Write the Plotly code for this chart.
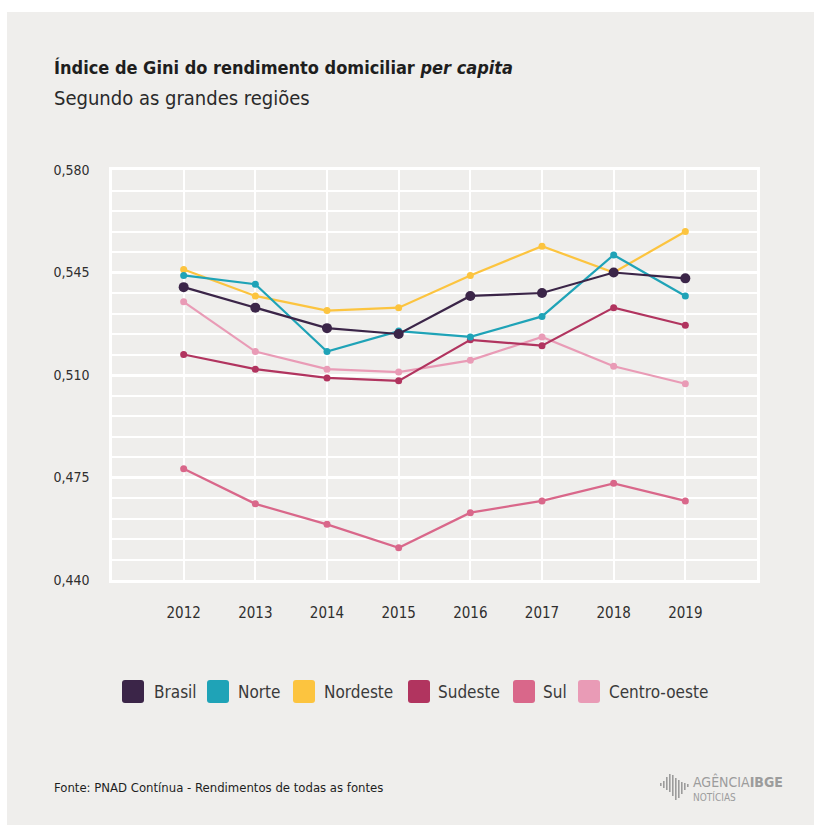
import plotly.graph_objects as go

# --- data -------------------------------------------------------------
anos = [2012, 2013, 2014, 2015, 2016, 2017, 2018, 2019]

brasil       = [0.540, 0.533, 0.526, 0.524, 0.537, 0.538, 0.545, 0.543]
norte        = [0.544, 0.541, 0.518, 0.525, 0.523, 0.530, 0.551, 0.537]
nordeste     = [0.546, 0.537, 0.532, 0.533, 0.544, 0.554, 0.545, 0.559]
sudeste      = [0.517, 0.512, 0.509, 0.508, 0.522, 0.520, 0.533, 0.527]
sul          = [0.478, 0.466, 0.459, 0.451, 0.463, 0.467, 0.473, 0.467]
centro_oeste = [0.535, 0.518, 0.512, 0.511, 0.515, 0.523, 0.513, 0.507]

nomes  = ["Brasil", "Norte", "Nordeste", "Sudeste", "Sul", "Centro-oeste"]
series = [brasil, norte, nordeste, sudeste, sul, centro_oeste]
cores  = ["#3b2548", "#1fa3b7", "#fcc43f", "#b1345f", "#d9678a", "#e99bb6"]

y_ticks = [0.440, 0.475, 0.510, 0.545, 0.580]

# --- style ------------------------------------------------------------
BG = "#efeeec"
TXT = "#2f2f2f"
FONT = "DejaVu Sans Condensed, Liberation Sans Narrow, Arial Narrow, sans-serif"

W, H = 814, 825
L, R, T, B = 112, 757, 170, 580          # plot-area box in pixels


def xp(px):
    return (px - L) / (R - L)


def yp(py):
    return (B - py) / (B - T)


fig = go.Figure()

# draw order: Brasil last so it sits on top
ordem = [4, 5, 3, 2, 1, 0]
for i in ordem:
    fig.add_trace(go.Scatter(
        x=anos, y=series[i], name=nomes[i], mode="lines+markers",
        line=dict(color=cores[i], width=2.2),
        marker=dict(color=cores[i], size=10 if i == 0 else 7),
        showlegend=False,
    ))

fig.update_xaxes(
    range=[2011, 2020], tickmode="array", tickvals=anos,
    ticktext=[str(a) for a in anos],
    showgrid=True, gridcolor="white", gridwidth=2,
    showline=True, mirror=True, linecolor="white", linewidth=2.5,
    zeroline=False, ticks="", ticklabelstandoff=17,
    tickfont=dict(family=FONT, size=15, color=TXT),
)

fig.update_yaxes(
    range=[0.440, 0.580], tickmode="array", tickvals=y_ticks,
    tickformat=".3f",
    showgrid=True, gridcolor="white", gridwidth=2.6,
    showline=True, mirror=True, linecolor="white", linewidth=2.5,
    zeroline=False, ticks="", ticklabelstandoff=17,
    tickfont=dict(family=FONT, size=14, color=TXT),
    minor=dict(dtick=0.007, tick0=0.440, showgrid=True, gridcolor="white", gridwidth=1.5),
)

shapes = [
    # white margin strips along the top and left edges
    dict(type="rect", xref="paper", yref="paper", x0=xp(0), x1=xp(W), y0=yp(12), y1=yp(0),
         fillcolor="white", line_width=0, layer="below"),
    dict(type="rect", xref="paper", yref="paper", x0=xp(0), x1=xp(7), y0=yp(H), y1=yp(0),
         fillcolor="white", line_width=0, layer="below"),
]

annotations = [
    dict(text="<b>Índice de Gini do rendimento domiciliar <i>per capita</i></b>",
         x=xp(52), y=yp(67), xref="paper", yref="paper", xanchor="left", yanchor="middle",
         showarrow=False, font=dict(family=FONT, size=18, color="#1e1e1e")),
    dict(text="Segundo as grandes regiões",
         x=xp(52), y=yp(98), xref="paper", yref="paper", xanchor="left", yanchor="middle",
         showarrow=False, font=dict(family=FONT, size=20, color="#2a2a2a")),
    dict(text="Fonte: PNAD Contínua - Rendimentos de todas as fontes",
         x=xp(52), y=yp(787), xref="paper", yref="paper", xanchor="left", yanchor="middle",
         showarrow=False, font=dict(family=FONT, size=13, color="#1e1e1e")),
]

# legend: rounded swatches + labels
sw_x = [122, 207, 293, 408, 513, 578]
lb_x = [152, 236, 322, 436, 541, 607]
sw_w, y0s, y1s, rr = 22, 680, 703, 3
for nome, cor, sx, lx in zip(nomes, cores, sw_x, lb_x):
    x0, x1 = sx, sx + sw_w
    pts = (f"M {xp(x0+rr)},{yp(y0s)} L {xp(x1-rr)},{yp(y0s)} Q {xp(x1)},{yp(y0s)} {xp(x1)},{yp(y0s+rr)} "
           f"L {xp(x1)},{yp(y1s-rr)} Q {xp(x1)},{yp(y1s)} {xp(x1-rr)},{yp(y1s)} "
           f"L {xp(x0+rr)},{yp(y1s)} Q {xp(x0)},{yp(y1s)} {xp(x0)},{yp(y1s-rr)} "
           f"L {xp(x0)},{yp(y0s+rr)} Q {xp(x0)},{yp(y0s)} {xp(x0+rr)},{yp(y0s)} Z")
    shapes.append(dict(type="path", xref="paper", yref="paper", path=pts,
                       fillcolor=cor, line_width=0))
    annotations.append(dict(text=nome, x=xp(lx), y=yp(692), xref="paper", yref="paper",
                            xanchor="left", yanchor="middle", showarrow=False,
                            font=dict(family=FONT, size=17, color="#3a3a3a")))

# agency logo: bar glyph + wordmark
LOGO = "#9c9c9c"
bars = [(660, 783, 786), (663, 781, 788), (666, 777, 790), (669, 774, 792),
        (672, 775, 796), (675, 778, 800), (678, 780, 798), (681, 782, 794),
        (684, 783, 790), (687, 784, 787)]
for bx, by0, by1 in bars:
    shapes.append(dict(type="rect", xref="paper", yref="paper",
                       x0=xp(bx), x1=xp(bx + 1.6), y0=yp(by1), y1=yp(by0),
                       fillcolor=LOGO, line_width=0))
annotations += [
    dict(text="AGÊNCIA<b>IBGE</b>", x=xp(691), y=yp(781), xref="paper", yref="paper",
         xanchor="left", yanchor="middle", showarrow=False,
         font=dict(family=FONT, size=14, color=LOGO)),
    dict(text="NOTÍCIAS", x=xp(691), y=yp(797), xref="paper", yref="paper",
         xanchor="left", yanchor="middle", showarrow=False,
         font=dict(family=FONT, size=10, color=LOGO)),
]

fig.update_layout(
    width=W, height=H,
    margin=dict(l=L, r=W - R, t=T, b=H - B),
    paper_bgcolor=BG, plot_bgcolor=BG,
    separators=",.",
    shapes=shapes, annotations=annotations,
    showlegend=False,
    font=dict(family=FONT, color=TXT),
)

fig.write_html("out.html")
